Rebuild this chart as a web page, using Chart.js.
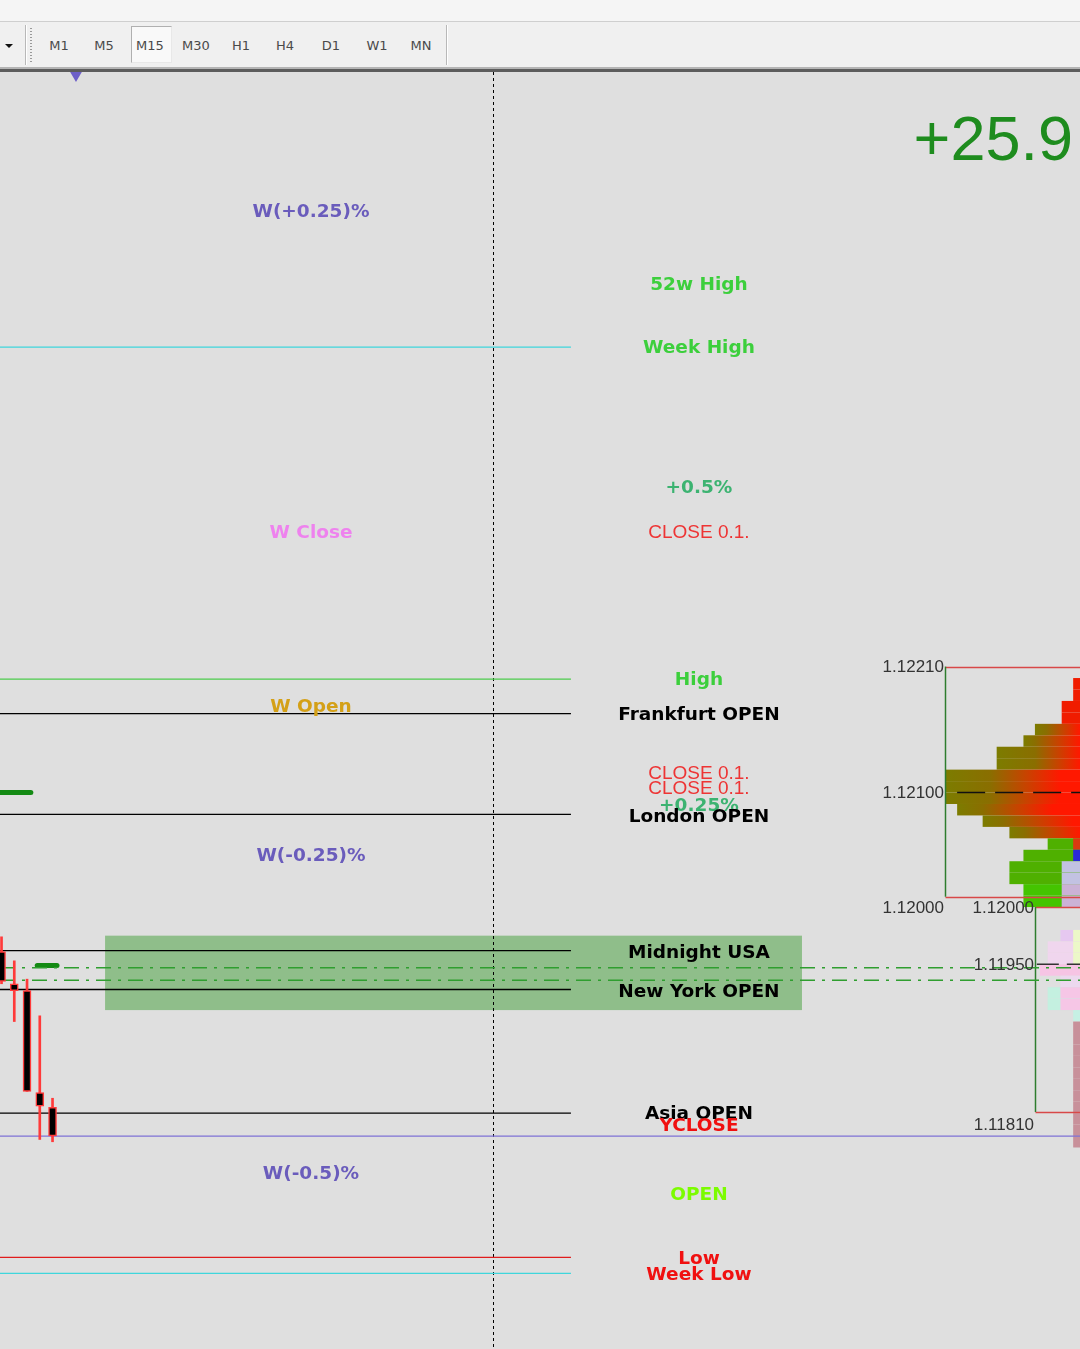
<!DOCTYPE html>
<html>
<head>
<meta charset="utf-8">
<script src="https://cdn.jsdelivr.net/npm/chart.js@4.4.1/dist/chart.umd.min.js"></script>
<style>
html, body { margin: 0; padding: 0; width: 1080px; height: 1349px; overflow: hidden; background: #f0f0f0; font-family: "DejaVu Sans", sans-serif; }
#strip { position: absolute; left: 0; top: 0; width: 1080px; height: 21px; background: #f5f5f5; border-bottom: 1px solid #cfcfcf; }
#tools { position: absolute; left: 0; top: 22px; width: 1080px; height: 45px; background: #f0f0f0; }
#edge1 { position: absolute; left: 0; top: 67px; width: 1080px; height: 2px; background: #b4b4b4; }
#edge2 { position: absolute; left: 0; top: 69px; width: 1080px; height: 3px; background: #5c5c5c; }
.tf { position: absolute; top: 16px; width: 40px; text-align: center; font-size: 13px; color: #4a4a4a; }
.sep { position: absolute; top: 3px; width: 1px; height: 40px; background: #b8b8b8; box-shadow: 1px 0 0 #fff; }
#grip { position: absolute; left: 30px; top: 6px; width: 2px; height: 34px; background: repeating-linear-gradient(#9a9a9a 0 1px, transparent 1px 3px); }
#drop { position: absolute; left: 5px; top: 22px; width: 0; height: 0; border-left: 4px solid transparent; border-right: 4px solid transparent; border-top: 4px solid #111; }
#pressed { position: absolute; left: 131px; top: 4px; width: 39px; height: 35px; background: #f9f9f9; border: 1px solid #b0b0b0; border-right-color: #e8e8e8; border-bottom-color: #e8e8e8; }
#chart { position: absolute; left: 0; top: 72px; }
</style>
</head>
<body>
<div id="strip"></div>
<div id="tools">
  <div id="drop"></div>
  <div class="sep" style="left:25px"></div>
  <div id="grip"></div>
  <div id="pressed"></div>
  <div class="sep" style="left:446px"></div>
</div>
<div id="edge1"></div>
<div id="edge2"></div>
<canvas id="chart" width="1080" height="1277"></canvas>
<script>
// timeframe buttons
const timeframes = ['M1', 'M5', 'M15', 'M30', 'H1', 'H4', 'D1', 'W1', 'MN'];
const tfCenters = [59, 104, 150, 196, 241, 285, 331, 377, 421];

// M15 candles, oldest first
const candleOpen  = [1.11961, 1.11933, 1.11927, 1.11838, 1.11825];
const candleHigh  = [1.11974, 1.11953, 1.11937, 1.11905, 1.11833];
const candleLow   = [1.11933, 1.11900, 1.11839, 1.11797, 1.11795];
const candleClose = [1.11935, 1.11927, 1.11839, 1.11826, 1.11800];

// horizontal levels
const levelNames  = ['Week High', 'High', 'Frankfurt OPEN', 'London OPEN', 'Midnight USA',
                     'New York OPEN', 'Asia OPEN', 'YCLOSE', 'Low', 'Week Low'];
const levelPrices = [1.12489, 1.12199, 1.12169, 1.12081, 1.11962,
                     1.11928, 1.11820, 1.11800, 1.11694, 1.11680];
const signalPrices = [1.11947, 1.11936];
const markerPrices = [1.12100, 1.11949];
const pocPrices = [1.12100, 1.11950];
const zonePrices = [1.11975, 1.11910];

// labels
const leftLabels = ['W(+0.25)%', 'W Close', 'W Open', 'W(-0.25)%', 'W(-0.5)%'];
const leftLabelPrices = [1.12608, 1.12328, 1.12176, 1.12046, 1.11768];
const rightLabels = ['52w High', 'Week High', '+0.5%', 'CLOSE 0.1.', 'High', 'Frankfurt OPEN',
                     'CLOSE 0.1.', 'CLOSE 0.1.', '+0.25%', 'London OPEN', 'Midnight USA',
                     'New York OPEN', 'Asia OPEN', 'YCLOSE', 'OPEN', 'Low', 'Week Low'];
const rightLabelPrices = [1.12544, 1.12489, 1.12367, 1.12328, 1.12199, 1.12169,
                          1.12118, 1.12105, 1.12089, 1.12080, 1.11961,
                          1.11927, 1.11820, 1.11810, 1.11750, 1.11694, 1.11680];
const profitText = '+25.9';

// volume profiles (rows of 1 pip, top price of each row)
const profile1Tops = [1.12200, 1.12190, 1.12180, 1.12170, 1.12160, 1.12150, 1.12140, 1.12130, 1.12120, 1.12110,
                      1.12100, 1.12090, 1.12080, 1.12070, 1.12060, 1.12050, 1.12040, 1.12030, 1.12020, 1.12010];
const profile1Vol  = [21, 21, 30, 30, 51, 60, 81, 81, 121, 121, 121, 112, 92, 71, 41, 60, 71, 71, 60, 60];
const profile1Buy  = [0, 0, 0, 0, 9, 9, 30, 30, 35, 35, 35, 20, 16, 12, 41, 60, 71, 71, 60, 60];
const profile1Tail = [0, 0, 0, 0, 0, 0, 0, 0, 0, 0, 0, 0, 0, 0, 21, 21, 30, 30, 30, 30];
const profile1Range = [1.12210, 1.12009];
const profile1Ticks = [1.12210, 1.12100, 1.12000];

const profile2Tops = [1.11980, 1.11970, 1.11960, 1.11950, 1.11940, 1.11930, 1.11920, 1.11910, 1.11900, 1.11890,
                      1.11880, 1.11870, 1.11860, 1.11850, 1.11840, 1.11830, 1.11820, 1.11810, 1.11800];
const profile2Vol  = [31, 41, 41, 47, 31, 41, 41, 21, 21, 21, 21, 21, 21, 21, 21, 21, 21, 21, 21];
const profile2Tail = [21, 21, 21, 0, 0, 31, 31, 0, 0, 0, 0, 0, 0, 0, 0, 0, 0, 0, 0];
const profile2Range = [1.12000, 1.11821];
const profile2Ticks = [1.12000, 1.11950, 1.11810];

// ---- layout (x in bars of 12.75px, y in price) ----
const BAR_PX = 12.75;
const X_MIN = -0.12;
const X_MAX = X_MIN + 1080 / BAR_PX;
const Y_MIN = 1.116140;
const Y_MAX = 1.127293;
const PIP = 0.0001;
const SESSION_END = 44.66;
const NOW_BAR = 38.55;
const ZONE_X = [8.12, 62.78];
const LEFT_COL = 24.27;
const RIGHT_COL = 54.7;
const MARKER_X = [[X_MIN, 2.3], [2.8, 4.35]];
const PROFILE1_LEFT = 74.0;
const PROFILE2_LEFT = 81.06;
const PROFILE_ANCHOR = 86.15;
const VOL_BAR = 0.1;
const POC_X = [74.95, 81.2];

const tools = document.getElementById('tools');
timeframes.forEach((t, i) => {
  const d = document.createElement('div');
  d.className = 'tf';
  d.style.left = (tfCenters[i] - 20) + 'px';
  d.textContent = t;
  tools.appendChild(d);
});

const levelStyle = {
  'Week High': '#3fd6dc', 'High': '#4ccc4c', 'Frankfurt OPEN': '#000', 'London OPEN': '#000',
  'Midnight USA': '#000', 'New York OPEN': '#000', 'Asia OPEN': '#000', 'YCLOSE': '#7f72d6',
  'Low': '#e01c1c', 'Week Low': '#3fd6dc'
};
const labelColor = {
  'W(+0.25)%': '#6a5cbc', 'W(-0.25)%': '#6a5cbc', 'W(-0.5)%': '#6a5cbc',
  'W Close': '#ee82ee', 'W Open': '#d4a017',
  '52w High': '#3ccf3c', 'Week High': '#3ccf3c', 'High': '#3ccf3c',
  '+0.5%': '#3cb371', '+0.25%': '#3cb371', 'CLOSE 0.1.': '#ee3434',
  'YCLOSE': '#f01010', 'Low': '#f01010', 'Week Low': '#f01010', 'OPEN': '#7cfc00'
};

function hline(price, from, to, color, width, dash) {
  return {
    type: 'line',
    data: [{x: from, y: price}, {x: to, y: price}],
    borderColor: color,
    borderWidth: width || 1,
    borderDash: dash || [],
    borderCapStyle: width > 2 ? 'round' : 'butt',
    pointRadius: 0,
    fill: false,
    order: 3
  };
}

const datasets = [];
levelNames.forEach((n, i) => {
  const end = n === 'YCLOSE' ? X_MAX : SESSION_END;
  datasets.push(hline(levelPrices[i], X_MIN, end, levelStyle[n], 1.3));
});
signalPrices.forEach(p => datasets.push(hline(p, X_MIN, X_MAX, '#2f9e2f', 1.5, [15, 7, 3, 7])));
markerPrices.forEach((p, i) => datasets.push(hline(p, MARKER_X[i][0], MARKER_X[i][1], '#148a14', 5)));
pocPrices.forEach((p, i) => datasets.push(hline(p, POC_X[i], X_MAX, i ? '#333' : '#111', 1.5, i ? [22, 8] : [28, 10])));

// candles
datasets.push({
  type: 'bar', grouped: false, order: 2,
  data: candleHigh.map((h, i) => ({x: i, y: [candleLow[i], h]})),
  backgroundColor: '#ff3a3a', borderWidth: 0, barThickness: 2
});
datasets.push({
  type: 'bar', grouped: false, order: 1,
  data: candleOpen.map((o, i) => ({x: i, y: [o, candleClose[i]]})),
  backgroundColor: candleOpen.map((o, i) => candleClose[i] < o ? '#000' : '#fff'),
  borderColor: '#ff3a3a', borderWidth: 1.5, borderSkipped: false, barThickness: 8
});
// period marker
datasets.push({
  type: 'line', showLine: false, order: 0,
  data: [{x: 5.84, y: 1.127266}],
  pointStyle: 'triangle', rotation: 180, pointRadius: 7,
  pointBackgroundColor: '#6d5fc8', pointBorderWidth: 0
});

function drawProfile(ctx, sx, sy, tops, vols, colorFor, tails, tailColor) {
  const xa = sx(PROFILE_ANCHOR);
  tops.forEach((t, i) => {
    const y0 = sy(t), y1 = sy(t - PIP);
    const x0 = sx(PROFILE_ANCHOR - vols[i] * VOL_BAR);
    ctx.fillStyle = colorFor(i, x0);
    ctx.fillRect(x0, y0, xa - x0, y1 - y0);
    if (tails[i]) {
      const xt = sx(PROFILE_ANCHOR - tails[i] * VOL_BAR);
      ctx.fillStyle = tailColor(i);
      ctx.fillRect(xt, y0, xa - xt, y1 - y0);
    }
  });
}

const overlay = {
  id: 'overlay',
  beforeDraw(chart) {
    const ctx = chart.ctx;
    ctx.save();
    ctx.fillStyle = '#dfdfdf';
    ctx.fillRect(0, 0, chart.width, chart.height);
    ctx.restore();
  },
  beforeDatasetsDraw(chart) {
    const ctx = chart.ctx;
    const sx = v => chart.scales.x.getPixelForValue(v);
    const sy = v => chart.scales.y.getPixelForValue(v);
    const top = chart.chartArea.top, bottom = chart.chartArea.bottom;
    ctx.save();

    // session zone
    ctx.fillStyle = '#8fbe8a';
    ctx.fillRect(sx(ZONE_X[0]), sy(zonePrices[0]), sx(ZONE_X[1]) - sx(ZONE_X[0]), sy(zonePrices[1]) - sy(zonePrices[0]));

    // profile 1
    drawProfile(ctx, sx, sy, profile1Tops, profile1Vol, (i, x0) => {
      const buy = profile1Buy[i], vol = profile1Vol[i];
      if (buy === 0) return '#f01c00';
      if (buy === vol) return i >= 18 ? '#44c400' : '#4fb000';
      const xb = sx(PROFILE_ANCHOR - (vol - buy) * VOL_BAR);
      const g = ctx.createLinearGradient(x0, 0, Math.min(xb + 70, 1080), 0);
      const f = (xb - x0) / (Math.min(xb + 70, 1080) - x0);
      g.addColorStop(0, '#7c7c00');
      g.addColorStop(f, '#8a6e00');
      g.addColorStop(Math.min(1, f + (1 - f) * 0.5), '#c64400');
      g.addColorStop(1, '#ff1800');
      return g;
    }, profile1Tail, i => i === 14 ? '#d83a10' : (i === 15 ? '#2a2ad6' : (i < 18 ? '#c2c2e2' : '#cbb2d6')));

    // profile 2
    const p2Colors = ['#e6c8f0', '#f0d6ee', '#f0d6ee', '#f6c4e4', '#ecd8ee', '#c4f0e0', '#c4f0e0', '#c6f0e4'];
    drawProfile(ctx, sx, sy, profile2Tops, profile2Vol, i => p2Colors[i] || '#c8909a',
      profile2Tail, i => i < 3 ? '#ecf8c8' : '#f6c6e6');

    // profile boxes
    [[PROFILE1_LEFT, profile1Range], [PROFILE2_LEFT, profile2Range]].forEach(([left, r]) => {
      const x = Math.round(sx(left)) + 0.5;
      ctx.lineWidth = 1.5;
      ctx.strokeStyle = '#d84848';
      ctx.beginPath();
      ctx.moveTo(x, Math.round(sy(r[0])) + 0.5); ctx.lineTo(1080, Math.round(sy(r[0])) + 0.5);
      ctx.moveTo(x, Math.round(sy(r[1])) + 0.5); ctx.lineTo(1080, Math.round(sy(r[1])) + 0.5);
      ctx.stroke();
      ctx.strokeStyle = '#2e7d2e';
      ctx.beginPath();
      ctx.moveTo(x, sy(r[0])); ctx.lineTo(x, sy(r[1]));
      ctx.stroke();
    });

    // current bar separator
    const xv = Math.round(sx(NOW_BAR)) + 0.5;
    ctx.strokeStyle = '#000';
    ctx.lineWidth = 1;
    ctx.setLineDash([3, 3]);
    ctx.beginPath();
    ctx.moveTo(xv, top); ctx.lineTo(xv, bottom);
    ctx.stroke();
    ctx.restore();
  },
  afterDatasetsDraw(chart) {
    const ctx = chart.ctx;
    const sx = v => chart.scales.x.getPixelForValue(v);
    const sy = v => chart.scales.y.getPixelForValue(v);
    ctx.save();
    ctx.textAlign = 'center';
    ctx.textBaseline = 'middle';
    const put = (txt, x, p) => {
      ctx.font = txt === 'CLOSE 0.1.' ? '19px "Liberation Sans"' : 'bold 18.5px "DejaVu Sans"';
      ctx.fillStyle = labelColor[txt] || '#000';
      ctx.fillText(txt, x, sy(p) + 1.5);
    };
    leftLabels.forEach((t, i) => put(t, sx(LEFT_COL), leftLabelPrices[i]));
    rightLabels.forEach((t, i) => put(t, sx(RIGHT_COL), rightLabelPrices[i]));

    // profile price ticks
    ctx.font = '17px "Liberation Sans"';
    ctx.fillStyle = '#333';
    ctx.textAlign = 'right';
    profile1Ticks.forEach(p => ctx.fillText(p.toFixed(5), sx(PROFILE1_LEFT) - 1, sy(p) + 1));
    profile2Ticks.forEach(p => ctx.fillText(p.toFixed(5), sx(PROFILE2_LEFT) - 1, sy(p) + 1));

    // running profit
    ctx.font = '63px "Liberation Sans"';
    ctx.fillStyle = '#1e8c1e';
    ctx.textAlign = 'right';
    ctx.fillText(profitText, 1073, 71);
    ctx.restore();
  }
};

new Chart(document.getElementById('chart'), {
  type: 'line',
  data: { datasets: datasets },
  options: {
    responsive: false,
    devicePixelRatio: 1,
    animation: false,
    layout: { padding: 0, autoPadding: false },
    scales: {
      x: { type: 'linear', min: X_MIN, max: X_MAX, offset: false, display: false },
      y: { type: 'linear', min: Y_MIN, max: Y_MAX, beginAtZero: false, display: false }
    },
    plugins: { legend: { display: false }, tooltip: { enabled: false } }
  },
  plugins: [overlay]
});
</script>
</body>
</html>
